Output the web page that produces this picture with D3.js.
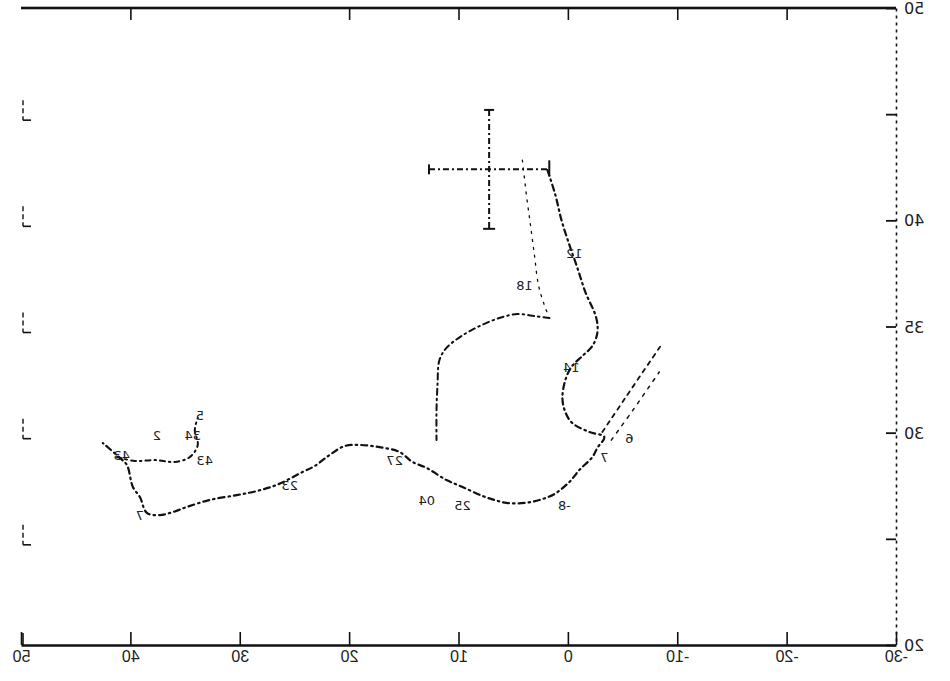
<!DOCTYPE html>
<html><head><meta charset="utf-8">
<script src="https://cdn.jsdelivr.net/npm/d3@7"></script>
<style>
html,body{margin:0;padding:0;background:#fff;}
svg{display:block;font-family:"DejaVu Sans",sans-serif;}
</style></head>
<body><svg id="c" width="950" height="681"></svg>
<script>
// ---- data (the scan is mirrored left-right, so text glyphs are mirrored too) ----
const xTickVals = [50, 40, 30, 20, 10, 0, -10, -20, -30];
const xTopTickVals = [40, 20, 10, 0, -10, -20];
const yTickVals = [50, 45, 40, 35, 30, 25, 20];
const yLabelVals = [50, 40, 35, 30, 20];

// main track [lon, lat]
const trackMain = [[1.87,42.37],[1.14,41.19],[0.59,40.02],[-0.14,38.84],[-0.87,37.76],[-1.60,36.62],
 [-2.60,35.40],[-2.69,34.69],[-2.24,34.08],[-1.32,33.61],[-0.32,33.09],[0.23,32.48],[0.50,31.63],
 [0.23,30.97],[-0.41,30.45],[-1.96,30.03],[-3.33,29.80],[-2.69,29.28],[-2.24,28.85],[-1.05,28.24],
 [-0.14,27.68],[1.23,27.11],[2.60,26.83],[3.97,26.69],[5.62,26.69],[6.71,26.83],[7.81,27.02],
 [9.63,27.44],[11.10,27.77],[12.92,28.34],[14.20,28.62],[15.39,29.09],[17.21,29.32],[19.04,29.42],
 [20.41,29.37],[21.78,28.95],[23.15,28.43],[24.25,28.15],[26.62,27.54],[28.45,27.25],[30.27,27.06],
 [32.74,26.83],[34.84,26.50],[36.12,26.26],[37.31,26.12],[38.49,26.22],[39.13,26.97],[39.77,27.44],
 [40.32,28.48],[40.96,28.81],[42.51,29.51]];
// short branch at the western end
const trackWest = [[41.23,28.85],[39.59,28.67],[37.76,28.71],[35.94,28.62],[34.57,28.85],[33.84,29.42],[34.11,30.13],[33.84,30.69]];
// northern loop branch
const trackLoop = [[1.69,35.40],[3.06,35.49],[4.61,35.59],[6.26,35.40],[8.08,35.02],[9.73,34.55],
 [11.10,33.99],[11.74,33.42],[11.92,32.24],[12.01,31.07],[12.01,29.65]];
// thin line from the position marker
const trackThin = [[4.16,42.84],[3.79,41.19],[3.42,39.78],[3.06,38.37],[2.69,36.95],[2.15,36.01],[1.69,35.40]];
// two short lines toward the east
const trackEastA = [[-3.15,30.03],[-5.2,31.6],[-8.54,34.13]];
const trackEastB = [[-3.97,29.65],[-6.0,31.1],[-8.36,32.86]];
// position marker with error bars
const markerLon = [7.2], markerLat = [42.4], markerErrLon = [5.5], markerErrLat = [2.8];
// day labels along the track
const labelLon  = [-0.59, 3.97, -0.32, -5.62, -3.33, 0.32, 9.63, 12.9, 15.84, 25.43, 33.65, 34.29, 33.2, 37.58, 40.78, 39.13];
const labelLat  = [38.23, 36.72, 32.86, 29.51, 28.62, 26.36, 26.36, 26.6, 28.48, 27.3, 30.6, 29.65, 28.48, 29.65, 28.71, 25.89];
const labelText = ["12","18","14","6","7","-8","25","04","27","23","5","34","43","2","43","7"];

// ---- drawing ----
const svg = d3.select("#c");
const x = d3.scaleLinear().domain([50, -30]).range([21, 896]);
const y = d3.scaleLinear().domain([50, 20]).range([8, 645]);
const ink = "#111";

// bottom axis
const gB = svg.append("g").attr("transform", `translate(0,${y(20)})`)
  .call(d3.axisBottom(x).tickValues(xTickVals).tickSize(-13).tickSizeOuter(0).tickPadding(6)
        .tickFormat(d => String(d)));
gB.select(".domain").attr("stroke", ink).attr("stroke-width", 2.6);
gB.selectAll(".tick line").attr("stroke", ink).attr("stroke-width", 1.6);
gB.selectAll(".tick text").attr("fill", "#222").attr("font-size", 16)
  .attr("transform", "scale(-1,1)");

// top axis (ticks only)
svg.append("rect").attr("x", x(50)).attr("y", y(50)-1.3).attr("width", x(-30)-x(50)).attr("height", 2.6).attr("fill", ink);
const gT = svg.append("g").attr("transform", `translate(0,${y(50)})`)
  .call(d3.axisTop(x).tickValues(xTopTickVals).tickSize(-12).tickSizeOuter(0).tickFormat(""));
gT.select(".domain").remove();
gT.selectAll(".tick line").attr("stroke", ink).attr("stroke-width", 1.6);

// right axis
const gR = svg.append("g").attr("transform", `translate(${x(-30)},0)`)
  .call(d3.axisRight(y).tickValues(yTickVals).tickSize(-10).tickSizeOuter(0).tickFormat(""));
gR.select(".domain").attr("stroke", ink).attr("stroke-width", 1.6).attr("stroke-dasharray", "3,4");
gR.selectAll(".tick line").attr("stroke", ink).attr("stroke-width", 1.8);
svg.append("g").selectAll("text").data(yLabelVals).join("text")
  .attr("transform", d => `translate(${x(-30)+8},${y(d)+6}) scale(-1,1)`)
  .attr("text-anchor", "end").attr("font-size", 16).attr("fill", "#222")
  .text(d => String(d));

// left axis: faded, only fragments around the ticks survive
const gL = svg.append("g");
gL.selectAll("line.seg").data(yTickVals.slice(1, -1)).join("line").attr("class", "seg")
  .attr("x1", x(50)+2).attr("x2", x(50)+2)
  .attr("y1", d => y(d) - 14).attr("y2", d => y(d) + 6)
  .attr("stroke", ink).attr("stroke-width", 1.4).attr("stroke-dasharray", "5,3");
gL.selectAll("line.tk").data(yTickVals.slice(1, -1)).join("line").attr("class", "tk")
  .attr("x1", x(50)+2).attr("x2", x(50)+10)
  .attr("y1", d => y(d) + 6).attr("y2", d => y(d) + 6)
  .attr("stroke", ink).attr("stroke-width", 1.6);
gL.append("line").attr("x1", x(50)+2).attr("x2", x(50)+2).attr("y1", y(20)-12).attr("y2", y(20))
  .attr("stroke", ink).attr("stroke-width", 1.6);

// tracks
const line = d3.line().x(d => x(d[0])).y(d => y(d[1])).curve(d3.curveCatmullRom);
function track(data, w, dash) {
  svg.append("path").datum(data).attr("d", line).attr("fill", "none")
    .attr("stroke", ink).attr("stroke-width", w).attr("stroke-dasharray", dash)
    .attr("stroke-linecap", "round");
}
track(trackMain, 2.2, "6,4,1.5,4");
track(trackWest, 2.0, "5,4,1.5,4");
track(trackLoop, 2.0, "6,4,1.5,4");
track(trackThin, 1.3, "2,6");
track(trackEastA, 1.8, "4,5");
track(trackEastB, 1.5, "3,6");

// position marker with error bars
const mk = svg.append("g").attr("stroke", ink).attr("stroke-width", 2).attr("stroke-dasharray", "6,3,2,3");
markerLon.forEach((lo, i) => {
  const la = markerLat[i], el = markerErrLon[i], ea = markerErrLat[i];
  mk.append("line").attr("x1", x(lo + el)).attr("x2", x(lo - el)).attr("y1", y(la)).attr("y2", y(la));
  mk.append("line").attr("x1", x(lo)).attr("x2", x(lo)).attr("y1", y(la + ea)).attr("y2", y(la - ea));
  const cap = svg.append("g").attr("stroke", ink).attr("stroke-width", 2);
  cap.append("line").attr("x1", x(lo)-5).attr("x2", x(lo)+5).attr("y1", y(la+ea)).attr("y2", y(la+ea));
  cap.append("line").attr("x1", x(lo)-6).attr("x2", x(lo)+6).attr("y1", y(la-ea)).attr("y2", y(la-ea));
  cap.append("line").attr("x1", x(lo+el)).attr("x2", x(lo+el)).attr("y1", y(la)-5).attr("y2", y(la)+5);
  cap.append("line").attr("x1", x(lo-el)).attr("x2", x(lo-el)).attr("y1", y(la)-9).attr("y2", y(la)+7);
});

// labels (mirrored like the scan)
svg.append("g").selectAll("text").data(labelText).join("text")
  .attr("transform", (d, i) => `translate(${x(labelLon[i])},${y(labelLat[i])}) scale(-1,1)`)
  .attr("text-anchor", "middle").attr("font-size", 13).attr("fill", "#222")
  .text(d => d);
</script></body></html>
